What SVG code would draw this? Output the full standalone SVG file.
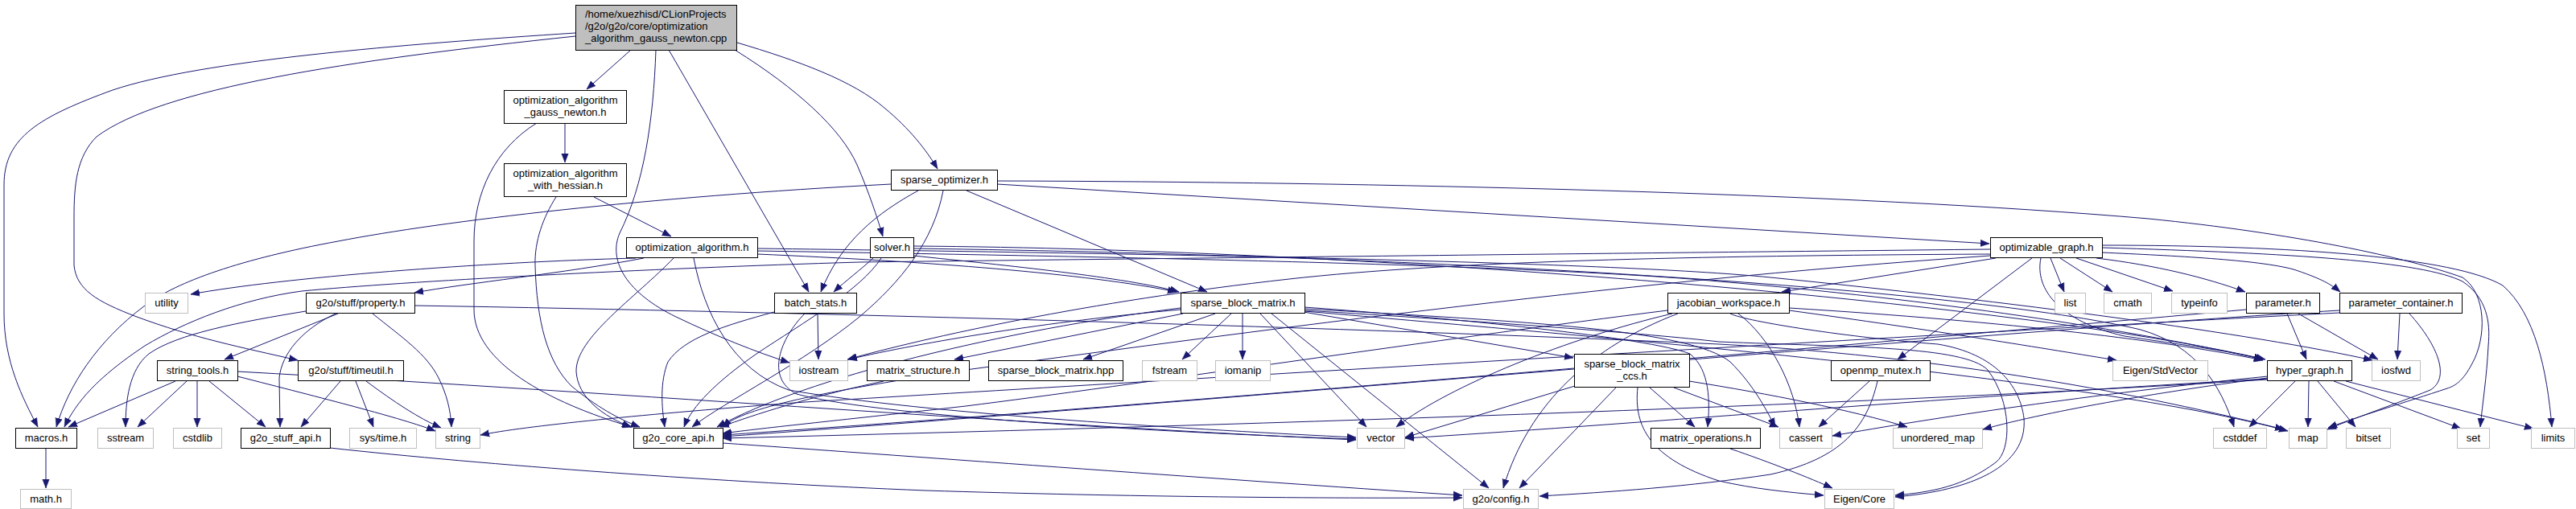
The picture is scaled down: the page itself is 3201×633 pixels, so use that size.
<svg xmlns="http://www.w3.org/2000/svg" width="3201" height="633" viewBox="0 0 3201 633">
<style>
text{font-family:"Liberation Sans",Arial,Helvetica,sans-serif;font-size:13px;fill:#000;text-anchor:middle}
.n rect{fill:#fff;stroke:#000;stroke-width:1}
.x rect{fill:#fff;stroke:#bfbfbf;stroke-width:1}
.r rect{fill:#bfbfbf;stroke:#000;stroke-width:1}
.r text{text-anchor:start}
#edges path{fill:none;stroke:#191970;stroke-width:1;marker-end:url(#a)}
</style>
<defs>
<marker id="a" markerUnits="userSpaceOnUse" markerWidth="12" markerHeight="10" refX="11" refY="5" orient="auto"><path d="M0,0.8 L11,5 L0,9.2 z" fill="#191970" stroke="#191970" stroke-width="0.5"/></marker>
</defs>
<rect width="3201" height="633" fill="#fff"/>
<g id="edges">
<path d="M784,62 L729,111"/>
<path d="M715,41 C500,55 250,75 140,112 C50,145 5,170 5,230 L5,390 C5,450 28,495 47,531"/>
<path d="M715,45 C430,75 200,110 120,170 C95,195 92,230 92,270 L92,330 C95,360 120,375 170,394 C240,420 300,432 370,448"/>
<path d="M815,62 C812,150 800,230 770,290 C755,325 780,365 840,394 C890,418 940,438 981,451"/>
<path d="M831,62 L1005,363"/>
<path d="M913,62 C990,110 1045,160 1065,205 C1080,240 1090,270 1097,294"/>
<path d="M916,53 C990,75 1060,100 1100,135 C1130,160 1150,185 1165,210"/>
<path d="M702,153 L702,202"/>
<path d="M667,153 C615,185 589,240 589,300 L589,385 C589,450 680,500 785,531"/>
<path d="M738,245 L834,294"/>
<path d="M691,245 C675,270 664,300 665,330 C667,400 680,450 710,480 C740,505 770,522 795,531"/>
<path d="M790,321 C600,326 350,345 237,366"/>
<path d="M800,321 C700,340 580,352 515,364"/>
<path d="M837,321 C790,370 715,420 716,462 C718,495 750,518 784,531"/>
<path d="M862,321 C875,390 910,460 980,485 C1150,515 1500,535 1685,544"/>
<path d="M941,316 C1150,325 1350,340 1462,363"/>
<path d="M941,312 C1300,318 1900,328 2136,350 C2400,372 2650,410 2812,447"/>
<path d="M941,309 C1400,315 2000,325 2200,345 C2500,375 2800,415 2948,448"/>
<path d="M1085,321 C1070,335 1050,350 1036,363"/>
<path d="M1135,318 C1250,330 1400,345 1465,363"/>
<path d="M1095,321 C1070,360 1000,400 940,440 C890,475 860,505 850,531"/>
<path d="M1135,306 C1700,310 2500,375 2815,447"/>
<path d="M1135,309 C1800,318 2450,360 2660,410 C2730,430 2760,480 2776,531"/>
<path d="M1239,229 L2472,303"/>
<path d="M1239,225 C1700,226 2300,240 2670,272 C2850,290 2990,320 3060,345 C3090,365 3090,420 3072,452 C3060,475 3050,480 3041,483 C2990,500 2930,518 2893,532"/>
<path d="M1201,237 L1500,363"/>
<path d="M1141,237 C1090,265 1045,300 1020,363"/>
<path d="M1172,237 C1160,300 1120,350 1068,394 C1000,450 900,500 860,531"/>
<path d="M1107,229 C800,245 550,275 420,300 C300,322 220,350 180,380 C120,425 85,480 70,531"/>
<path d="M2548,321 L2565,363"/>
<path d="M2560,321 L2625,363"/>
<path d="M2580,321 L2700,362"/>
<path d="M2605,321 C2680,330 2740,345 2790,363"/>
<path d="M2612,314 C2700,318 2806,323 2850,335 C2880,345 2895,352 2908,363"/>
<path d="M2612,308 C2850,315 3010,325 3060,350 C3090,370 3095,400 3092,430 C3090,470 3085,500 3082,531"/>
<path d="M2612,305 C2850,305 3050,320 3110,355 C3150,390 3165,460 3171,531"/>
<path d="M2536,321 C2528,360 2560,400 2640,418 C2720,430 2780,438 2812,447"/>
<path d="M2525,321 L2358,447"/>
<path d="M2480,321 L2214,363"/>
<path d="M2473,310 C2000,315 1400,322 1068,326 C800,334 500,350 375,362 C300,372 230,400 180,430 C120,470 95,500 80,531"/>
<path d="M2473,318 C2000,350 1500,420 1200,460 C1000,490 920,510 898,531"/>
<path d="M2473,316 C2100,318 1800,325 1602,347 C1350,375 1150,420 1053,447"/>
<path d="M463,390 C500,420 530,440 545,470 C555,490 560,510 561,531"/>
<path d="M515,380 C1000,388 1700,408 2136,428 C2450,445 2700,500 2838,534"/>
<path d="M380,387 C300,400 220,415 185,440 C160,460 156,500 156,531"/>
<path d="M420,390 L279,447"/>
<path d="M417,390 C375,410 350,440 347,470 L348,531"/>
<path d="M1016,390 L1017,447"/>
<path d="M1000,390 C970,420 950,470 990,490 C1100,520 1500,540 1685,546"/>
<path d="M962,388 C900,405 850,420 830,450 C820,475 822,505 826,531"/>
<path d="M1470,390 L1186,447"/>
<path d="M1510,390 L1346,447"/>
<path d="M1530,390 L1469,447"/>
<path d="M1544,390 L1544,447"/>
<path d="M1566,390 L1698,531"/>
<path d="M1580,390 L1850,607"/>
<path d="M1620,388 L1955,445"/>
<path d="M1621,382 C1800,395 2050,420 2100,440 C2125,460 2125,500 2122,531"/>
<path d="M1621,384 C1900,400 2100,410 2150,450 C2180,480 2195,510 2206,531"/>
<path d="M1621,386 C1850,400 2050,415 2136,425 C2300,432 2440,430 2470,460 C2500,500 2500,560 2480,575 C2440,605 2400,612 2355,616"/>
<path d="M1467,385 C1300,400 1150,425 1054,447"/>
<path d="M1621,387 C2000,420 2600,470 2843,536"/>
<path d="M1467,383 C1250,410 1000,470 891,531"/>
<path d="M2078,390 C1950,420 1800,480 1735,531"/>
<path d="M2085,390 C1980,430 1900,500 1868,607"/>
<path d="M2223,386 C2400,410 2550,435 2630,448"/>
<path d="M2160,390 C2200,420 2230,480 2236,531"/>
<path d="M2223,383 C2500,400 2700,425 2812,448"/>
<path d="M2072,386 C1800,420 1400,480 1200,505 C1050,522 950,532 898,539"/>
<path d="M2150,390 C2170,400 2300,420 2408,428 C2480,440 2510,480 2515,520 C2520,580 2450,610 2355,618"/>
<path d="M2323,474 L2260,531"/>
<path d="M2333,474 C2320,530 2290,570 2200,590 C2100,605 2000,612 1913,617"/>
<path d="M2842,390 L2866,447"/>
<path d="M2856,390 L2955,447"/>
<path d="M2791,385 C2400,420 1500,500 898,541"/>
<path d="M2982,390 L2979,447"/>
<path d="M2994,390 C3030,430 3045,470 3020,485 C2970,505 2920,522 2892,534"/>
<path d="M2907,389 C2500,410 1500,470 1000,500 C800,515 650,530 597,541"/>
<path d="M2907,386 C2500,410 1500,500 898,543"/>
<path d="M2852,474 L2795,531"/>
<path d="M2869,474 L2868,531"/>
<path d="M2880,474 L2927,531"/>
<path d="M2900,474 L3058,533"/>
<path d="M2915,474 L3148,533"/>
<path d="M2818,468 C2600,490 2400,520 2277,542"/>
<path d="M2818,470 C2700,485 2550,510 2464,534"/>
<path d="M2818,471 C2400,495 2000,530 1746,545"/>
<path d="M2818,472 C2300,505 1500,530 898,545"/>
<path d="M1957,480 L1746,544"/>
<path d="M2008,482 L1888,607"/>
<path d="M2050,482 L2106,531"/>
<path d="M2080,482 L2210,531"/>
<path d="M2099,474 C2200,490 2300,510 2370,531"/>
<path d="M2035,482 C2030,530 2050,570 2136,598 C2180,608 2220,612 2266,616"/>
<path d="M1098,474 C1000,495 940,515 895,531"/>
<path d="M2150,558 C2200,575 2250,595 2277,607"/>
<path d="M218,474 L85,531"/>
<path d="M232,474 L171,531"/>
<path d="M245,474 L245,531"/>
<path d="M260,474 L330,531"/>
<path d="M295,468 C400,495 500,520 541,536"/>
<path d="M295,462 C800,490 1300,530 1685,547"/>
<path d="M423,474 L374,531"/>
<path d="M442,474 L464,531"/>
<path d="M455,474 C490,500 520,520 548,532"/>
<path d="M57,558 L57,607"/>
<path d="M410,557 C600,578 900,600 1150,610 C1400,618 1650,620 1817,619"/>
<path d="M898,551 C1100,565 1500,595 1817,616"/>
</g>
<g id="root" class="r"><rect x="715.5" y="6.5" width="200" height="56"/><text x="727" y="22">/home/xuezhisd/CLionProjects</text><text x="727" y="37">/g2o/g2o/core/optimization</text><text x="727" y="52">_algorithm_gauss_newton.cpp</text></g>
<g id="gn" class="n"><rect x="626.5" y="112.5" width="152" height="41"/><text x="702.5" y="128.5">optimization_algorithm</text><text x="702.5" y="143.5">_gauss_newton.h</text></g>
<g id="wh" class="n"><rect x="626.5" y="203.5" width="152" height="41"/><text x="702.5" y="220">optimization_algorithm</text><text x="702.5" y="235">_with_hessian.h</text></g>
<g id="so" class="n"><rect x="1107.5" y="211.5" width="132" height="25"/><text x="1173.5" y="228">sparse_optimizer.h</text></g>
<g id="oa" class="n"><rect x="778.5" y="295.5" width="163" height="25"/><text x="860" y="312">optimization_algorithm.h</text></g>
<g id="solver" class="n"><rect x="1081.5" y="295.5" width="54" height="25"/><text x="1108.5" y="312">solver.h</text></g>
<g id="og" class="n"><rect x="2473.5" y="295.5" width="139" height="25"/><text x="2543" y="312">optimizable_graph.h</text></g>
<g id="utility" class="x"><rect x="180.5" y="364.5" width="53" height="25"/><text x="207" y="381">utility</text></g>
<g id="prop" class="n"><rect x="380.5" y="364.5" width="135" height="25"/><text x="448" y="381">g2o/stuff/property.h</text></g>
<g id="bs" class="n"><rect x="962.5" y="364.5" width="102" height="25"/><text x="1013.5" y="381">batch_stats.h</text></g>
<g id="sbm" class="n"><rect x="1467.5" y="364.5" width="154" height="25"/><text x="1544.5" y="381">sparse_block_matrix.h</text></g>
<g id="jw" class="n"><rect x="2072.5" y="364.5" width="151" height="25"/><text x="2148" y="381">jacobian_workspace.h</text></g>
<g id="list" class="x"><rect x="2553.5" y="364.5" width="38" height="25"/><text x="2572.5" y="381">list</text></g>
<g id="cmath" class="x"><rect x="2614.5" y="364.5" width="59" height="25"/><text x="2644" y="381">cmath</text></g>
<g id="typeinfo" class="x"><rect x="2698.5" y="364.5" width="69" height="25"/><text x="2733" y="381">typeinfo</text></g>
<g id="param" class="n"><rect x="2791.5" y="364.5" width="91" height="25"/><text x="2837" y="381">parameter.h</text></g>
<g id="pc" class="n"><rect x="2907.5" y="364.5" width="152" height="25"/><text x="2983.5" y="381">parameter_container.h</text></g>
<g id="st" class="n"><rect x="195.5" y="448.5" width="100" height="25"/><text x="245.5" y="465">string_tools.h</text></g>
<g id="tu" class="n"><rect x="370.5" y="448.5" width="131" height="25"/><text x="436" y="465">g2o/stuff/timeutil.h</text></g>
<g id="iostream" class="x"><rect x="981.5" y="448.5" width="72" height="25"/><text x="1017.5" y="465">iostream</text></g>
<g id="ms" class="n"><rect x="1077.5" y="448.5" width="127" height="25"/><text x="1141" y="465">matrix_structure.h</text></g>
<g id="hpp" class="n"><rect x="1228.5" y="448.5" width="167" height="25"/><text x="1312" y="465">sparse_block_matrix.hpp</text></g>
<g id="fstream" class="x"><rect x="1419.5" y="448.5" width="68" height="25"/><text x="1453.5" y="465">fstream</text></g>
<g id="iomanip" class="x"><rect x="1510.5" y="448.5" width="68" height="25"/><text x="1544.5" y="465">iomanip</text></g>
<g id="ccs" class="n"><rect x="1956.5" y="440.5" width="143" height="41"/><text x="2028" y="456.5">sparse_block_matrix</text><text x="2028" y="471.5">_ccs.h</text></g>
<g id="omp" class="n"><rect x="2275.5" y="448.5" width="123" height="25"/><text x="2337" y="465">openmp_mutex.h</text></g>
<g id="stdvec" class="x"><rect x="2625.5" y="448.5" width="118" height="25"/><text x="2684.5" y="465">Eigen/StdVector</text></g>
<g id="hg" class="n"><rect x="2817.5" y="448.5" width="105" height="25"/><text x="2870" y="465">hyper_graph.h</text></g>
<g id="iosfwd" class="x"><rect x="2947.5" y="448.5" width="60" height="25"/><text x="2977.5" y="465">iosfwd</text></g>
<g id="macros" class="n"><rect x="19.5" y="532.5" width="76" height="25"/><text x="57.5" y="549">macros.h</text></g>
<g id="sstream" class="x"><rect x="121.5" y="532.5" width="69" height="25"/><text x="156" y="549">sstream</text></g>
<g id="cstdlib" class="x"><rect x="215.5" y="532.5" width="60" height="25"/><text x="245.5" y="549">cstdlib</text></g>
<g id="stuffapi" class="n"><rect x="299.5" y="532.5" width="111" height="25"/><text x="355" y="549">g2o_stuff_api.h</text></g>
<g id="systime" class="x"><rect x="434.5" y="532.5" width="83" height="25"/><text x="476" y="549">sys/time.h</text></g>
<g id="string" class="x"><rect x="541.5" y="532.5" width="55" height="25"/><text x="569" y="549">string</text></g>
<g id="coreapi" class="n"><rect x="787.5" y="532.5" width="111" height="25"/><text x="843" y="549">g2o_core_api.h</text></g>
<g id="vector" class="x"><rect x="1686.5" y="532.5" width="59" height="25"/><text x="1716" y="549">vector</text></g>
<g id="mo" class="n"><rect x="2051.5" y="532.5" width="136" height="25"/><text x="2119.5" y="549">matrix_operations.h</text></g>
<g id="cassert" class="x"><rect x="2211.5" y="532.5" width="65" height="25"/><text x="2244" y="549">cassert</text></g>
<g id="umap" class="x"><rect x="2352.5" y="532.5" width="111" height="25"/><text x="2408" y="549">unordered_map</text></g>
<g id="cstddef" class="x"><rect x="2750.5" y="532.5" width="66" height="25"/><text x="2783.5" y="549">cstddef</text></g>
<g id="map" class="x"><rect x="2844.5" y="532.5" width="47" height="25"/><text x="2868" y="549">map</text></g>
<g id="bitset" class="x"><rect x="2915.5" y="532.5" width="55" height="25"/><text x="2943" y="549">bitset</text></g>
<g id="set" class="x"><rect x="3053.5" y="532.5" width="40" height="25"/><text x="3073.5" y="549">set</text></g>
<g id="limits" class="x"><rect x="3145.5" y="532.5" width="54" height="25"/><text x="3172.5" y="549">limits</text></g>
<g id="math" class="x"><rect x="25.5" y="608.5" width="63" height="24"/><text x="57" y="625">math.h</text></g>
<g id="config" class="x"><rect x="1818.5" y="608.5" width="93" height="24"/><text x="1865" y="625">g2o/config.h</text></g>
<g id="eigencore" class="x"><rect x="2267.5" y="608.5" width="86" height="24"/><text x="2310.5" y="625">Eigen/Core</text></g>
</svg>
